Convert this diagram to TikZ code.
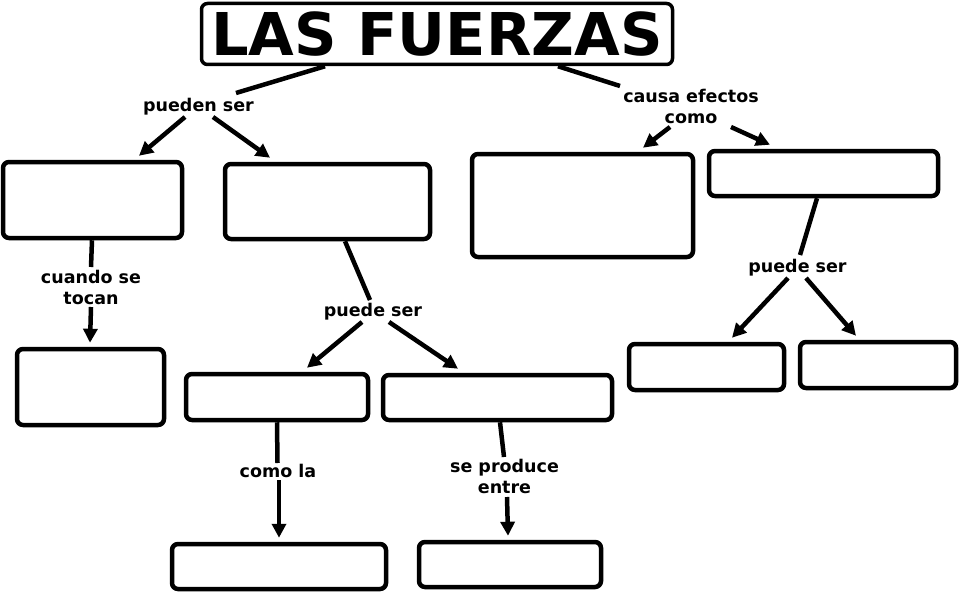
\documentclass[tikz,border=0pt]{standalone}
\usepackage{fontspec}
\setmainfont{DejaVu Sans}
\usetikzlibrary{arrows.meta,calc}
\tikzset{
  box/.style={draw, line width=4.5pt, rounded corners=6pt, rectangle, inner sep=0pt, fill=white},
  lbl/.style={font=\bfseries\fontsize{17.5}{21}\selectfont, inner sep=0pt, anchor=base, align=center},
  conn/.style={line width=4.5pt},
  arr/.style={line width=4.5pt, -{Triangle[length=14pt,width=14pt]}}
}
\begin{document}
\begin{tikzpicture}[x=1pt,y=-1pt]
\useasboundingbox (0,0) rectangle (961,594);
% title
\node[box, line width=3.5pt, minimum width=471pt, minimum height=61pt, font=\bfseries\fontsize{59}{61}\selectfont] (title) at (437,34) {LAS FUERZAS};
% boxes
\node[box, minimum width=179pt, minimum height=76pt] (A) at (92.5,200) {};
\node[box, minimum width=205pt, minimum height=75pt] (B) at (327.5,201.5) {};
\node[box, minimum width=147pt, minimum height=76pt] (C) at (90.5,387) {};
\node[box, minimum width=182pt, minimum height=46pt] (D) at (277,397) {};
\node[box, minimum width=229pt, minimum height=45pt] (E) at (497.5,397.5) {};
\node[box, minimum width=214pt, minimum height=45pt] (F) at (279,566.5) {};
\node[box, minimum width=182pt, minimum height=45pt] (G) at (510,564.5) {};
\node[box, minimum width=221pt, minimum height=103pt] (H) at (582.5,205.5) {};
\node[box, minimum width=229pt, minimum height=45pt] (I) at (823.5,173.5) {};
\node[box, minimum width=155pt, minimum height=46pt] (J) at (706.5,367) {};
\node[box, minimum width=156pt, minimum height=46pt] (K) at (878,365) {};
% labels
\node[lbl] (pueden) at (198.5,111) {pueden ser};
\node[lbl] (causa) at (691,123) {causa efectos\\como};
\node[lbl] (cuando) at (91,304) {cuando se\\tocan};
\node[lbl] (puedeA) at (373,316) {puede ser};
\node[lbl] (como) at (278,477) {como la};
\node[lbl] (seprod) at (504.5,493) {se produce\\entre};
\node[lbl] (puedeB) at (797.5,272) {puede ser};
% connectors
\draw[conn] ($(title.south)+(-112,0)$) -- ($(pueden.base)+(37.5,-18)$);
\draw[arr] ($(pueden.base)+(-13.5,6)$) -- ($(A.north)+(46.5,-4)$);
\draw[arr] ($(pueden.base)+(14.5,6)$) -- ($(B.north)+(-57.5,-4)$);
\draw[conn] ($(title.south)+(121,0)$) -- ($(causa.base)+(-71,-37)$);
\draw[arr] ($(causa.base)+(-21,4)$) -- ($(H.north)+(60.5,-4)$);
\draw[arr] ($(causa.base)+(40,4)$) -- ($(I.north)+(-53.5,-4)$);
\draw[conn] ($(A.south)+(-0.5,0)$) -- ($(cuando.base)+(0,-37)$);
\draw[arr] ($(cuando.base)+(0,3)$) -- ($(C.north)+(-0.5,-4)$);
\draw[conn] ($(B.south)+(17.5,0)$) -- ($(puedeA.base)+(-3,-16)$);
\draw[arr] ($(puedeA.base)+(-11,6)$) -- ($(D.north)+(30,-4)$);
\draw[arr] ($(puedeA.base)+(16,6)$) -- ($(E.north)+(-39.5,-4)$);
\draw[conn] (D.south) -- ($(como.base)+(-0.5,-14)$);
\draw[arr] ($(como.base)+(1,3)$) -- ($(F.north)+(0,-4)$);
\draw[conn] ($(E.south)+(2.5,0)$) -- ($(seprod.base)+(-0.5,-36)$);
\draw[arr] ($(seprod.base)+(2.5,4)$) -- ($(G.north)+(-2,-4)$);
\draw[conn] ($(I.south)+(-6.5,0)$) -- ($(puedeB.base)+(2.5,-17)$);
\draw[arr] ($(puedeB.base)+(-9.5,6)$) -- ($(J.north)+(25.5,-4)$);
\draw[arr] ($(puedeB.base)+(8.5,6)$) -- ($(K.north)+(-22,-4)$);
\end{tikzpicture}
\end{document}
